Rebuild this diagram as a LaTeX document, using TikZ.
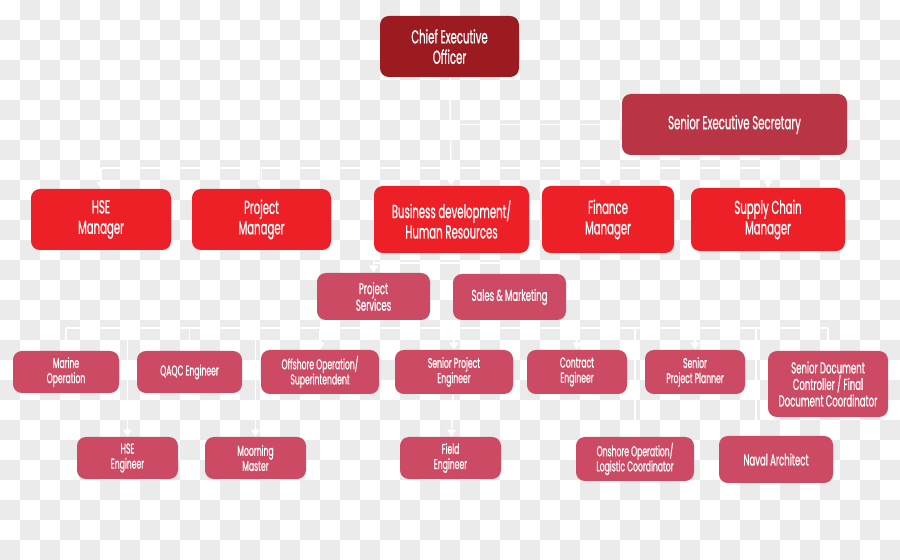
\documentclass[tikz,border=0pt]{standalone}
\usepackage{fontspec}
\setmainfont{Poppins}[FakeStretch=0.54, FakeBold=0.8]
\usepackage{xcolor}
\definecolor{ceo-red}{HTML}{9B1B21}
\definecolor{brick}{HTML}{B93445}
\definecolor{alizarin}{HTML}{ED1F27}
\definecolor{rose}{HTML}{CC4A63}
\definecolor{checker}{HTML}{EBEBEB}
\usetikzlibrary{arrows.meta,calc}
\pgfdeclarelayer{back}
\pgfdeclarelayer{background}
\pgfsetlayers{back,background,main}
\tikzset{
    box/.style 2 args={rectangle, rounded corners=5pt, text=white, align=center, inner sep=0pt,
        minimum width=#1*0.02cm, minimum height=#2*0.02cm},
    ceo/.style={fill=ceo-red, font=\fontsize{10.7}{11.6}\selectfont},
    head/.style={fill=alizarin, font=\fontsize{10.7}{11.6}\selectfont},
    unit/.style={fill=rose, font=\fontsize{9}{9.4}\selectfont},
    staff/.style={fill=rose, font=\fontsize{8.1}{8.6}\selectfont},
    link/.style={white, line width=0.9pt},
    arrow/.style={link, -{Triangle[width=5pt,length=4pt]}}
}

\begin{document}
\begin{tikzpicture}[x=0.02cm, y=-0.02cm]
    % board
    \begin{pgfonlayer}{back}
      \fill[white] (0,0) rectangle (900,560);
      \foreach \i in {0,...,44}{
        \foreach \j in {0,...,27}{
          \pgfmathtruncatemacro\k{mod(\i+\j,2)}
          \ifnum\k=1 \fill[checker] (\i*20,\j*20) rectangle ++(20,20); \fi
        }
      }
    \end{pgfonlayer}

    % top
    \node[box={139}{61}, ceo] (ceo) at (449.5, 46.5) {Chief Executive\\Officer};
    \node[box={225}{61}, fill=brick, font=\fontsize{10.7}{11.6}\selectfont] (secretary) at (734.5, 124.5) {Senior Executive Secretary};

    % managers
    \node[box={140}{61}, head] (hse) at (101, 219.5) {HSE\\Manager};
    \node[box={139}{61}, head] (pm) at (261.5, 219.5) {Project\\Manager};
    \node[box={155}{67}, head] (bd) at (451.5, 219.5) {Business development/\\Human Resources};
    \node[box={132}{67}, head] (fin) at (608, 219.5) {Finance\\Manager};
    \node[box={154}{63}, head] (scm) at (768, 219.5) {Supply Chain\\Manager};

    \node[box={113}{47}, unit] (services) at (373.5, 296.5) {Project\\Services};
    \node[box={113}{46}, unit] (sales) at (509.5, 297) {Sales \& Marketing};

    % staff
    \node[box={106}{42}, staff] (marine) at (66, 372) {Marine\\Operation};
    \node[box={105}{42}, staff] (qaqc) at (189.5, 372) {QAQC Engineer};
    \node[box={118}{44}, staff] (offshore) at (320, 372) {Offshore Operation/\\Superintendent};
    \node[box={118}{44}, staff] (spe) at (454, 372) {Senior Project\\Engineer};
    \node[box={100}{44}, staff] (contract) at (577, 372) {Contract\\Engineer};
    \node[box={100}{44}, staff] (planner) at (695, 372) {Senior\\Project Planner};
    \node[box={120}{66}, unit] (docctrl) at (828, 384) {Senior Document\\Controller / Final\\Document Coordinator};

    \node[box={101}{42}, staff] (hseeng) at (127.5, 458) {HSE\\Engineer};
    \node[box={101}{42}, staff] (mooring) at (255.5, 458) {Moorning\\Master};
    \node[box={101}{42}, staff] (field) at (450.5, 458) {Field\\Engineer};
    \node[box={118}{44}, staff] (onshore) at (635, 459) {Onshore Operation/\\Logistic Coordinator};
    \node[box={114}{47}, unit] (naval) at (776, 459.5) {Naval Architect};

    \coordinate (topbar) at (0, 168);
    \coordinate (midbar) at (0, 263);
    \coordinate (lowbar) at (0, 328);
    \coordinate (navaldrop) at (756, 328);

    \begin{pgfonlayer}{background}
      \draw[arrow] (ceo) -- (bd);
      \draw[link] (ceo.south |- secretary.west) -- (secretary.west);
      \draw[link] (hse.north |- topbar) -- (scm.north |- topbar);
      \foreach \n in {hse, pm, fin, scm}
        \draw[arrow] (\n.north |- topbar) -- (\n.north);

      \draw[arrow] (services.north |- bd.south) -- (services.north);
      \draw[link] (services.north |- midbar) -- (sales.north |- midbar);
      \draw[arrow] (sales.north |- midbar) -- (sales.north);

      \draw[link] (services) -- (services |- lowbar);
      \draw[link] (marine.north |- lowbar) -- (docctrl.north |- lowbar);
      \foreach \n in {marine, qaqc, offshore, spe, contract, planner, docctrl, hseeng, mooring, onshore}
        \draw[arrow] (\n.north |- lowbar) -- (\n.north);
      \draw[arrow] (spe) -- (field);
      \draw[arrow] (navaldrop) -- (navaldrop |- naval.north);
    \end{pgfonlayer}
\end{tikzpicture}
\end{document}
